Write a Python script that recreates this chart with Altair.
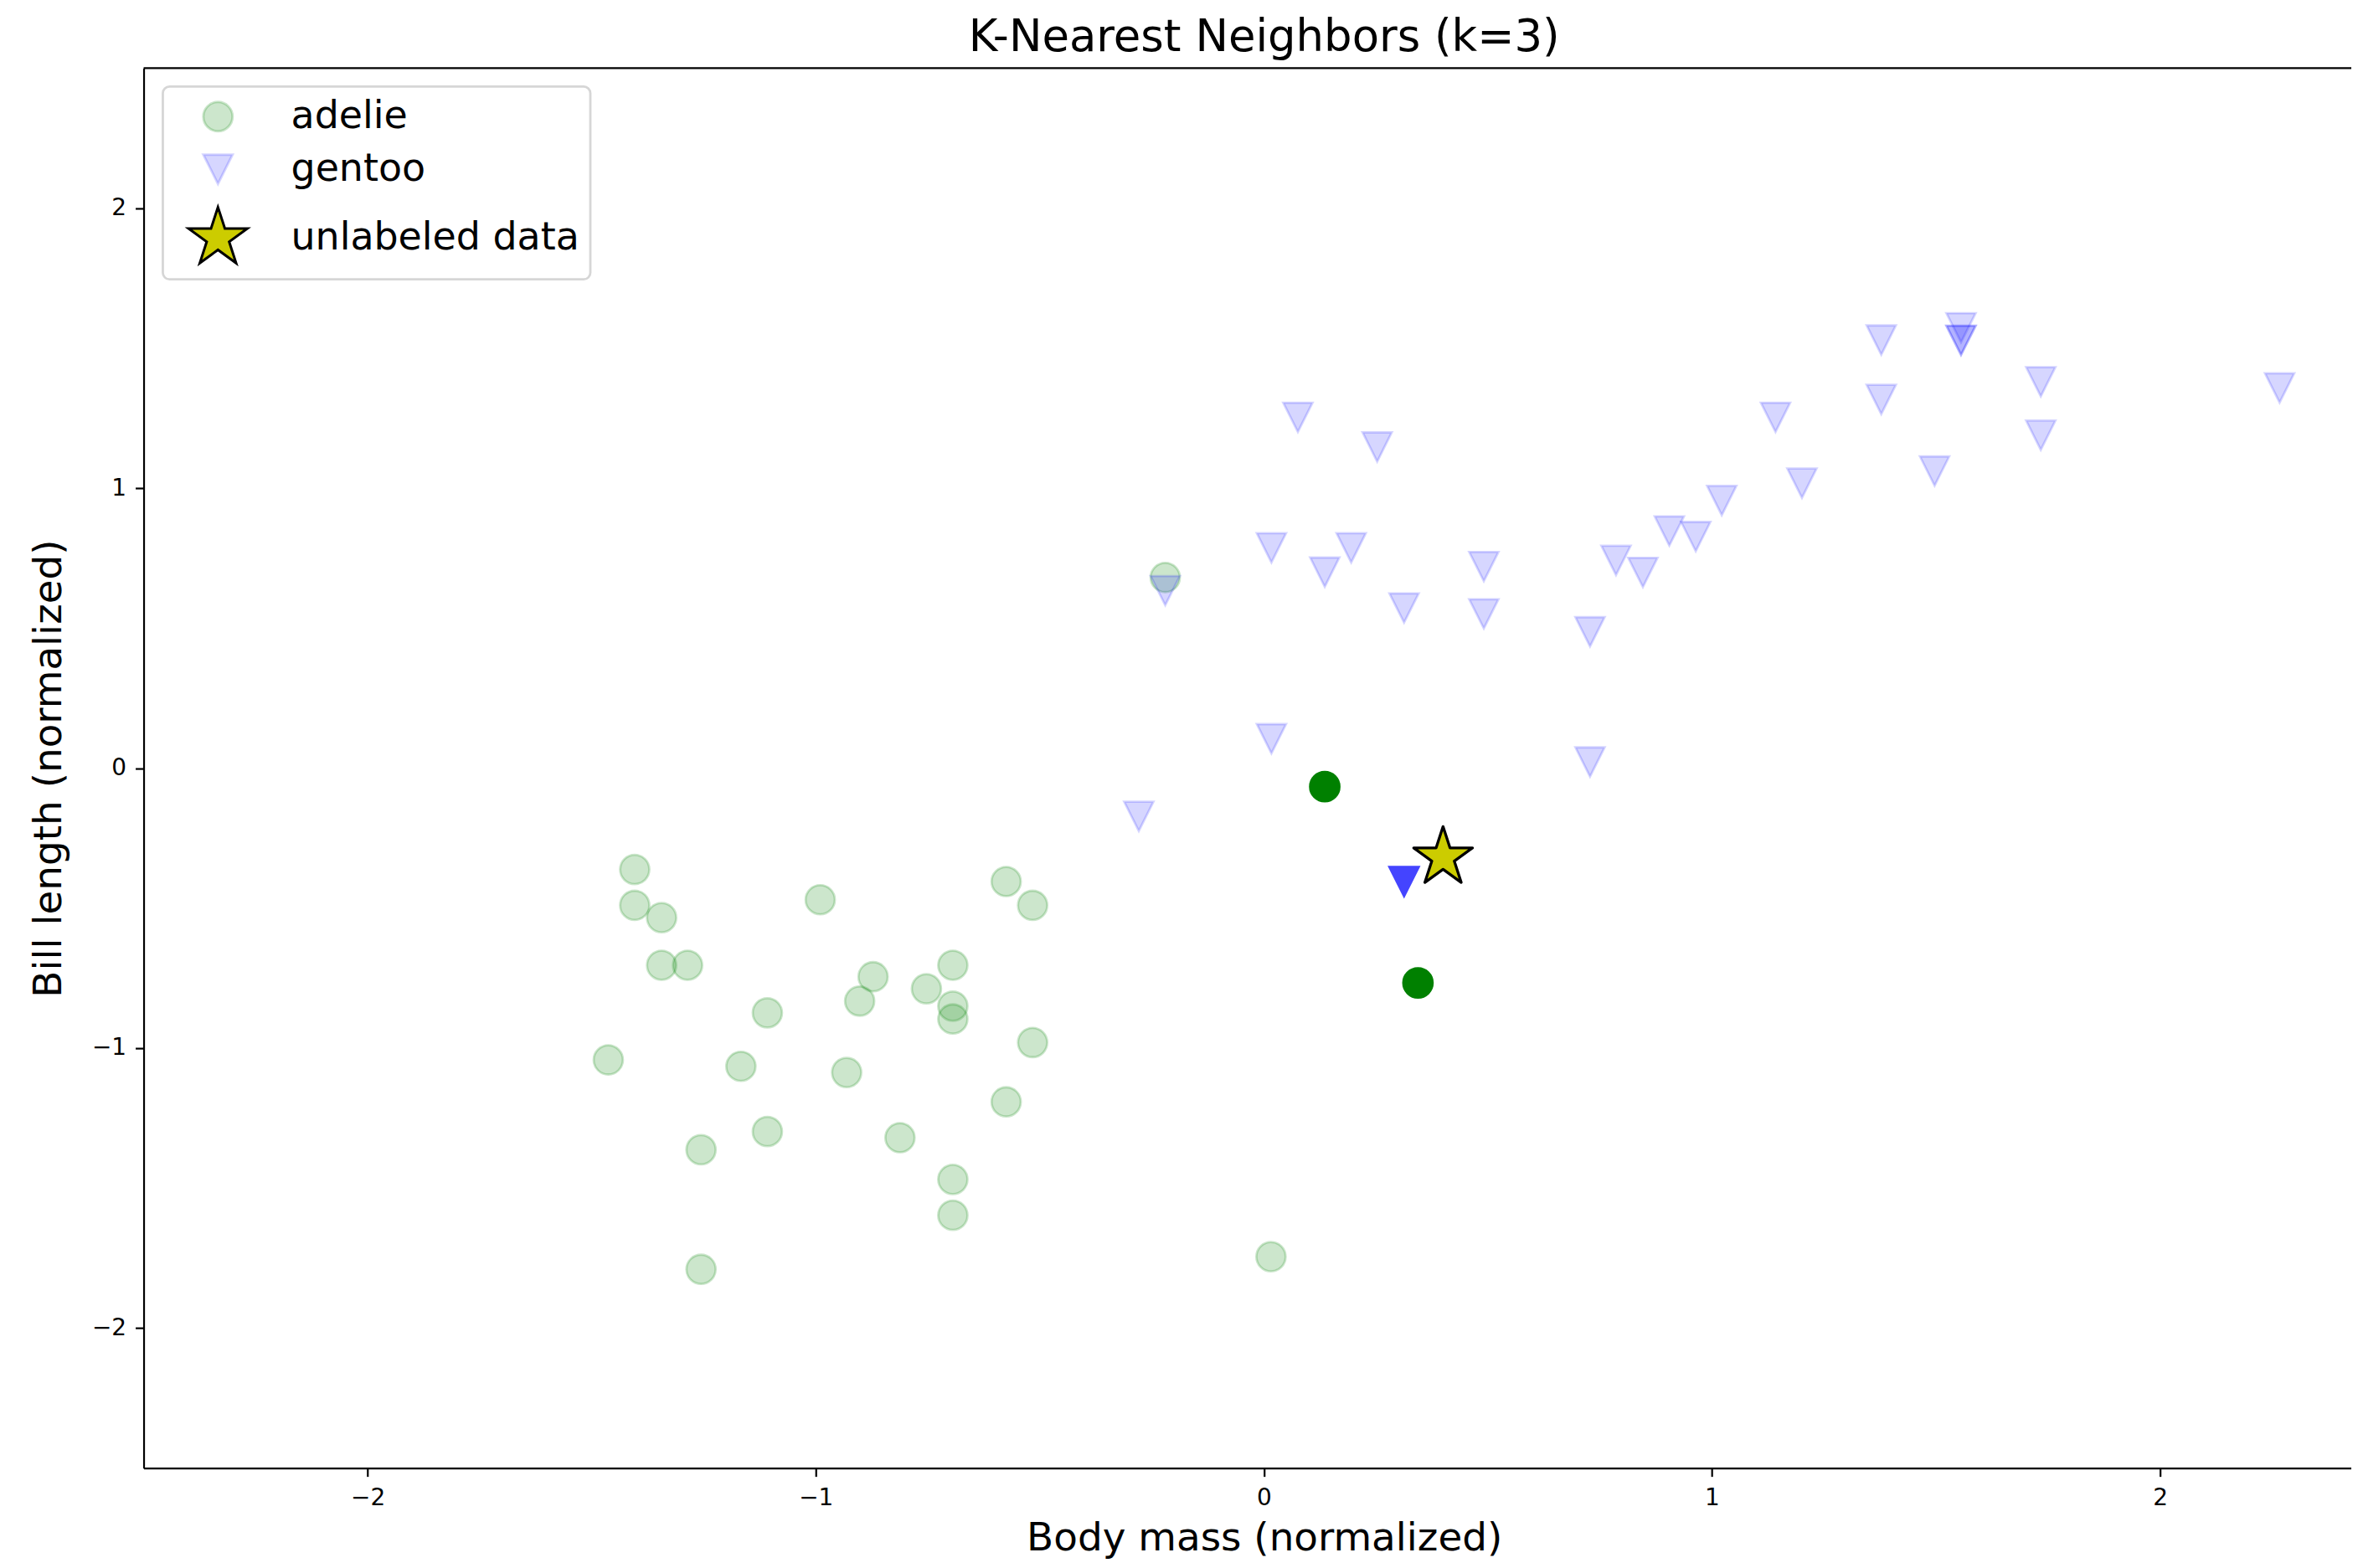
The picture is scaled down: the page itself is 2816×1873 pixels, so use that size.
import altair as alt
import pandas as pd

# ---------------- data ----------------
SERIES = ["adelie", "gentoo", "unlabeled data"]

adelie_mass = [-1.404, -1.404, -1.344, -1.344, -1.286, -0.990, -0.575, -0.516,
               -0.872, -0.902, -0.753, -0.694, -0.694, -0.694, -1.108, -1.463,
               -1.167, -0.931, -0.516, -0.575, -1.108, -1.256, -0.812, -0.694,
               -0.694, -1.256, 0.016, -0.220]
adelie_bill = [-0.362, -0.490, -0.534, -0.704, -0.704, -0.470, -0.405, -0.490,
               -0.745, -0.832, -0.788, -0.704, -0.850, -0.896, -0.874, -1.042,
               -1.065, -1.087, -0.980, -1.192, -1.298, -1.363, -1.320, -1.469,
               -1.597, -1.790, -1.745, 0.681]

gentoo_mass = [0.076, 0.253, 0.017, 0.195, 0.136, 0.491, 0.313, 0.491, -0.220,
               0.017, -0.279, 0.728, 0.728, 0.786, 0.846, 0.905, 0.964, 1.022,
               1.142, 1.201, 1.378, 1.378, 1.497, 1.556, 1.556, 1.556, 1.734,
               1.734, 2.267]
gentoo_bill = [1.253, 1.147, 0.787, 0.787, 0.700, 0.720, 0.572, 0.551, 0.634,
               0.105, -0.172, 0.487, 0.022, 0.742, 0.699, 0.847, 0.827, 0.956,
               1.253, 1.018, 1.529, 1.317, 1.061, 1.573, 1.528, 1.528, 1.380,
               1.189, 1.358]

# the k=3 nearest neighbours of the query point
nn_adelie_mass = [0.136, 0.344]
nn_adelie_bill = [-0.066, -0.767]
nn_gentoo_mass = [0.313]
nn_gentoo_bill = [-0.405]

query_mass = [0.400]
query_bill = [-0.319]

x_ticks = [-2, -1, 0, 1, 2]
y_ticks = [-2, -1, 0, 1, 2]

# ---------------- style ----------------
FONT = "DejaVu Sans"
PLOT_W = 2644
PLOT_H = 1677
X_DOMAIN = [-2.5, 2.427]
Y_DOMAIN = [-2.5, 2.5]

TRI_DOWN = "M0,1L-1,-1L1,-1Z"
STAR5 = ("M0,-1L-0.2245,-0.309L-0.9511,-0.309L-0.3633,0.118L-0.5878,0.809"
         "L0,0.382L0.5878,0.809L0.3633,0.118L0.9511,-0.309L0.2245,-0.309Z")

train = pd.DataFrame({
    "mass": adelie_mass + gentoo_mass,
    "bill": adelie_bill + gentoo_bill,
    "species": ["adelie"] * len(adelie_mass) + ["gentoo"] * len(gentoo_mass),
})
nn_adelie = pd.DataFrame({"mass": nn_adelie_mass, "bill": nn_adelie_bill})
nn_gentoo = pd.DataFrame({"mass": nn_gentoo_mass, "bill": nn_gentoo_bill})
query = pd.DataFrame({"mass": query_mass, "bill": query_bill,
                      "species": ["unlabeled data"] * len(query_mass)})

xscale = alt.Scale(domain=X_DOMAIN, nice=False, zero=False)
yscale = alt.Scale(domain=Y_DOMAIN, nice=False, zero=False)

legend = alt.Legend(
    title=None, orient="none", legendX=23, legendY=22,
    padding=13, rowPadding=15, symbolOffset=14.5, labelOffset=49,
    labelFont=FONT, labelFontSize=46, labelColor="black", labelLimit=1000,
    fillColor="white", strokeColor="#d6d6d6", cornerRadius=8,
    symbolStrokeWidth=3,
)

fill_scale = alt.Scale(domain=SERIES, range=["rgba(0,128,0,0.2)", "rgba(0,0,255,0.16)", "#cccc00"])
stroke_scale = alt.Scale(domain=SERIES, range=["rgba(0,128,0,0.2)", "rgba(0,0,255,0.16)", "#000000"])
shape_scale = alt.Scale(domain=SERIES, range=["circle", TRI_DOWN, STAR5])
size_scale = alt.Scale(type="ordinal", domain=SERIES, range=[1225, 1225, 5476])

series_enc = dict(
    fill=alt.Fill("species:N", scale=fill_scale, legend=legend),
    stroke=alt.Stroke("species:N", scale=stroke_scale, legend=legend),
    shape=alt.Shape("species:N", scale=shape_scale, legend=legend),
    size=alt.Size("species:N", scale=size_scale, legend=legend),
)

x_axis = alt.Axis(
    values=x_ticks, grid=False, title="Body mass (normalized)", orient="bottom",
    domainColor="black", domainWidth=2.2, tickColor="black", tickWidth=2.2, tickSize=10,
    labelFont=FONT, labelFontSize=28, labelColor="black", labelPadding=12,
    labelFlush=False, labelOverlap=False,
    titleFont=FONT, titleFontSize=47, titleFontWeight="normal", titleColor="black",
    titleX=1342, titleY=98, titleBaseline="alphabetic", titleAlign="center",
)
y_axis = alt.Axis(
    values=y_ticks, grid=False, title="Bill length (normalized)", orient="left",
    domainColor="black", domainWidth=2.2, tickColor="black", tickWidth=2.2, tickSize=10,
    labelFont=FONT, labelFontSize=28, labelColor="black", labelPadding=11,
    labelFlush=False, labelOverlap=False,
    titleFont=FONT, titleFontSize=47, titleFontWeight="normal", titleColor="black",
    titleAngle=270, titleX=-99, titleY=PLOT_H / 2, titleBaseline="alphabetic",
    titleAlign="center",
)

X = alt.X("mass:Q", scale=xscale, axis=x_axis)
Y = alt.Y("bill:Q", scale=yscale, axis=y_axis)

train_layer = alt.Chart(train).mark_point(strokeWidth=2.8, opacity=1).encode(
    x=X, y=Y, **series_enc,
)

nn_adelie_layer = alt.Chart(nn_adelie).mark_point(
    shape="circle", filled=True, fill="#008000", stroke="#008000",
    strokeWidth=2.8, size=1225, opacity=1,
).encode(x=X, y=Y)

nn_gentoo_layer = alt.Chart(nn_gentoo).mark_point(
    shape=TRI_DOWN, filled=True, fill="#4444ff", stroke="#4444ff",
    strokeWidth=2.8, size=1225, opacity=1,
).encode(x=X, y=Y)

query_layer = alt.Chart(query).mark_point(strokeWidth=3.3, strokeJoin="round", opacity=1).encode(
    x=X, y=Y, **series_enc,
)

# top spine of the axes frame (matplotlib draws it; the right one is cut off)
top_spine = alt.Chart(query).mark_rule(color="black", strokeWidth=2.2).encode(
    x=alt.X(datum=X_DOMAIN[0], type="quantitative", scale=xscale, axis=x_axis),
    x2=alt.X2(datum=X_DOMAIN[1]),
    y=alt.Y(datum=Y_DOMAIN[1], type="quantitative", scale=yscale, axis=y_axis),
)

chart = alt.layer(
    train_layer, nn_adelie_layer, nn_gentoo_layer, query_layer, top_spine
).properties(
    width=PLOT_W,
    height=PLOT_H,
    title=alt.Title("K-Nearest Neighbors (k=3)", font=FONT, fontSize=53,
                    fontWeight="normal", color="black", anchor="middle",
                    dx=20, offset=8),
    padding={"left": 164, "top": 71, "right": 0, "bottom": 109},
    autosize=alt.AutoSizeParams(type="none"),
    background="white",
).configure_view(
    stroke=None
).configure_legend(
    strokeWidth=2.8
)

chart.save("out.html", embed_options={"renderer": "svg", "actions": False})
